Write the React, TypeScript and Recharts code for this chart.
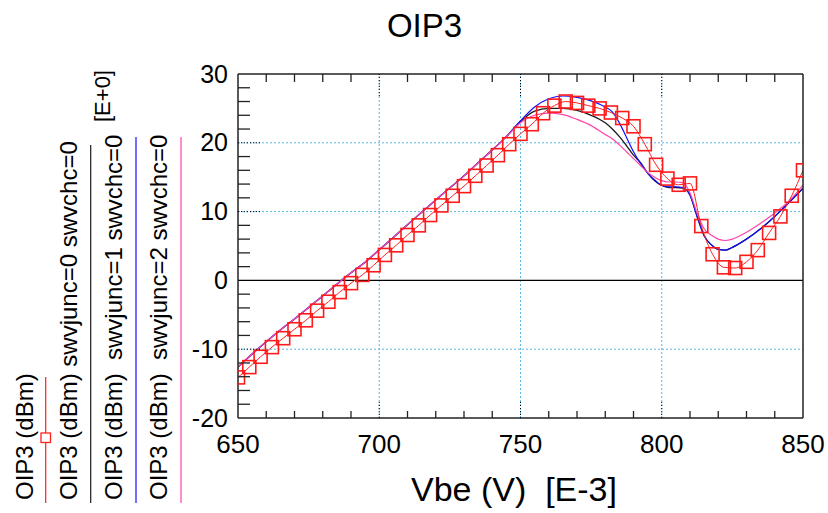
import React from 'react';
import { LineChart, Line, XAxis, YAxis, ReferenceLine } from 'recharts';

// measured OIP3 (red squares), Vbe in mV
const vbeMeas = [650, 654, 658, 662, 666, 670, 674, 678, 682, 686, 690, 694, 698, 702, 706, 710, 714, 718, 722, 726, 730, 734, 738, 742, 746, 750, 754, 758, 762, 766, 770, 774, 778, 782, 786, 790, 794, 798, 802, 806, 810, 814, 818, 822, 826, 830, 834, 838, 842, 846, 850];
const oip3Meas = [-14.1, -12.6, -11.1, -9.7, -8.4, -7.1, -5.8, -4.4, -3.1, -1.7, -0.4, 0.8, 2.2, 3.7, 5.1, 6.6, 8.0, 9.5, 10.9, 12.3, 13.7, 15.2, 16.7, 18.2, 19.8, 21.3, 22.7, 24.3, 25.4, 26.0, 25.8, 25.4, 25.0, 24.4, 23.6, 22.4, 19.8, 16.8, 14.8, 13.9, 14.1, 7.9, 3.8, 1.9, 1.8, 2.7, 4.4, 6.9, 9.3, 12.3, 16.0];

// simulated sweeps
const vbeSim = [650, 655, 660, 665, 670, 675, 680, 685, 690, 695, 700, 705, 710, 715, 720, 725, 730, 735, 740, 745, 750, 755, 760, 765, 770, 775, 780, 782.5, 785, 787.5, 790, 792.5, 795, 797.5, 800, 802.5, 805, 807.5, 810, 812.5, 815, 817.5, 820, 822.5, 825, 830, 835, 840, 845, 850];
const oip3Low = [-12.6, -10.7, -8.9, -7.2, -5.6, -3.95, -2.25, -0.55, 1.1, 2.65, 4.45, 6.25, 8.1, 9.9, 11.7, 13.45, 15.2, 17.1, 18.95, 20.9];
const oip3Junc0 = [...oip3Low, 23.1, 24.6, 25.0, 25.0, 24.7, 24.0, 22.9, 22.0, 20.9, 19.6, 18.2, 17.1, 15.6, 14.5, 13.8, 13.5, 13.5, 13.4, 12.4, 9.3, 6.5, 5.2, 4.5, 4.4, 4.8, 6.0, 7.5, 9.3, 11.3, 13.4];
const oip3Junc1 = [...oip3Low, 23.2, 25.2, 26.4, 26.8, 26.6, 26.1, 25.2, 24.5, 22.9, 20.8, 18.7, 17.0, 15.6, 14.6, 13.8, 13.6, 13.6, 13.5, 12.4, 9.3, 6.5, 5.2, 4.5, 4.4, 4.8, 6.0, 7.5, 9.3, 11.3, 13.4];
const oip3Junc2 = [...oip3Low, 22.9, 24.0, 24.3, 24.1, 23.4, 22.5, 21.2, 20.6, 19.7, 18.7, 17.7, 16.7, 15.7, 15.0, 14.5, 14.3, 14.3, 14.2, 12.7, 9.8, 7.5, 6.6, 6.0, 5.8, 6.0, 7.0, 8.3, 9.8, 11.5, 13.9];

const xTicks = [650, 660, 670, 680, 690, 700, 710, 720, 730, 740, 750, 760, 770, 780, 790, 800, 810, 820, 830, 840, 850];
const yTicks = [-20, -18, -16, -14, -12, -10, -8, -6, -4, -2, 0, 2, 4, 6, 8, 10, 12, 14, 16, 18, 20, 22, 24, 26, 28, 30];
const xGrid = [700, 750, 800];
const yGrid = [-10, 10, 20];

const measData = vbeMeas.map((v, i) => ({ vbe: v, oip3: oip3Meas[i] }));
const simData = vbeSim.map((v, i) => ({ vbe: v, j0: oip3Junc0[i], j1: oip3Junc1[i], j2: oip3Junc2[i] }));

const FONT = '"Liberation Sans", Arial, sans-serif';
const GRID = '#5ab4e6';

const BottomTick = (props: any) => {
    const { x, y, payload } = props;
    const v = payload.value;
    const major = v % 50 === 0;
    return (
        <g>
            {major ? (
                v > 650 && v < 850 && <line x1={x} x2={x} y1={y} y2={y - 18} stroke="#000" strokeDasharray="1 2" />
            ) : (
                <line x1={x} x2={x} y1={y} y2={y - 7} stroke="#222" strokeWidth={1.3} />
            )}
            {major && (
                <text x={x} y={y + 35} textAnchor="middle" fontSize={26} fontFamily={FONT} fill="#000">
                    {v}
                </text>
            )}
        </g>
    );
};

const TopTick = (props: any) => {
    const { x, y, payload } = props;
    const v = payload.value;
    if (v % 50 === 0) {
        if (v === 650 || v === 850) return <g />;
        return <line x1={x} x2={x} y1={y} y2={y + 22} stroke="#000" strokeDasharray="1 2" />;
    }
    return <line x1={x} x2={x} y1={y} y2={y + 8} stroke="#222" strokeWidth={1.3} />;
};

const LeftTick = (props: any) => {
    const { x, y, payload } = props;
    const v = payload.value;
    const major = v % 10 === 0;
    return (
        <g>
            {major ? (
                v > -20 && v < 30 && v !== 0 && <line x1={x} x2={x + 23} y1={y} y2={y} stroke="#000" strokeDasharray="1 2" />
            ) : (
                <line x1={x} x2={x + 12} y1={y} y2={y} stroke="#222" strokeWidth={1.3} />
            )}
            {major && (
                <text x={x - 10} y={y + 8.5} textAnchor="end" fontSize={25} fontFamily={FONT} fill="#000">
                    {v}
                </text>
            )}
        </g>
    );
};

const SquareDot = (props: any) => {
    const { cx, cy, index } = props;
    return (
        <rect key={index} x={cx - 6.5} y={cy - 6.5} width={13} height={13} fill="none" stroke="#ff1a1a" strokeWidth={1.6} />
    );
};

const legendRows = [
    { x: 33, text: 'OIP3 (dBm)' },
    { x: 77, text: 'OIP3 (dBm) swvjunc=0 swvchc=0' },
    { x: 121.5, text: 'OIP3 (dBm)\u00a0\u00a0swvjunc=1 swvchc=0' },
    { x: 166.5, text: 'OIP3 (dBm)\u00a0\u00a0swvjunc=2 swvchc=0' },
];

export default function App() {
    return (
        <div style={{ position: 'absolute', left: 0, top: 0, width: 828, height: 513, background: '#fff' }}>
            <LineChart width={828} height={513} margin={{ top: 73, right: 24, bottom: 55, left: 188 }}>
                <XAxis
                    dataKey="vbe"
                    type="number"
                    domain={[650, 850]}
                    ticks={xTicks}
                    interval={0}
                    height={40}
                    tickSize={0}
                    tickMargin={0}
                    tick={<BottomTick />}
                    axisLine={{ stroke: '#222', strokeWidth: 1.5 }}
                    allowDataOverflow
                />
                <XAxis
                    xAxisId="top"
                    orientation="top"
                    dataKey="vbe"
                    type="number"
                    domain={[650, 850]}
                    ticks={xTicks}
                    interval={0}
                    height={1}
                    tickSize={0}
                    tickMargin={0}
                    tick={<TopTick />}
                    axisLine={{ stroke: '#222', strokeWidth: 1.5 }}
                    allowDataOverflow
                />
                <YAxis
                    type="number"
                    domain={[-20, 30]}
                    ticks={yTicks}
                    interval={0}
                    width={50}
                    tickSize={0}
                    tickMargin={0}
                    tick={<LeftTick />}
                    axisLine={{ stroke: '#222', strokeWidth: 1.5 }}
                    allowDataOverflow
                />
                <YAxis
                    yAxisId="right"
                    orientation="right"
                    type="number"
                    domain={[-20, 30]}
                    width={1}
                    tick={false}
                    tickLine={false}
                    axisLine={{ stroke: '#222', strokeWidth: 1.5 }}
                />
                {xGrid.map((v) => (
                    <ReferenceLine key={'x' + v} x={v} stroke={GRID} strokeDasharray="2 2" strokeWidth={1} />
                ))}
                {yGrid.map((v) => (
                    <ReferenceLine key={'y' + v} y={v} stroke={GRID} strokeDasharray="2 2" strokeWidth={1} />
                ))}
                <ReferenceLine y={0} stroke="#000" strokeWidth={1.2} />
                <Line data={simData} dataKey="j0" type="monotone" stroke="#1a1a1a" strokeWidth={1.3} dot={false} isAnimationActive={false} />
                <Line data={simData} dataKey="j1" type="monotone" stroke="#1010ff" strokeWidth={1.2} dot={false} isAnimationActive={false} />
                <Line data={simData} dataKey="j2" type="monotone" stroke="#ff44a8" strokeWidth={1.2} dot={false} isAnimationActive={false} />
                <Line
                    data={measData}
                    dataKey="oip3"
                    type="monotone"
                    stroke="#ff2020"
                    strokeWidth={1}
                    dot={<SquareDot />}
                    isAnimationActive={false}
                />
            </LineChart>
            <svg
                width={828}
                height={513}
                style={{ position: 'absolute', left: 0, top: 0, pointerEvents: 'none' }}
                fontFamily={FONT}
            >
                <text x={424.5} y={37} textAnchor="middle" fontSize={33} fill="#000">
                    OIP3
                </text>
                <text x={514} y={501} textAnchor="middle" fontSize={34} fill="#000">
                    {'Vbe (V)\u00a0\u00a0[E-3]'}
                </text>
                {legendRows.map((r) => (
                    <text key={r.text} x={r.x} y={500} fontSize={24} fill="#000" transform={`rotate(-90 ${r.x} 500)`}>
                        {r.text}
                    </text>
                ))}
                <text x={110} y={122} fontSize={22} fill="#000" transform="rotate(-90 110 122)">
                    [E+0]
                </text>
                <line x1={45.7} x2={45.7} y1={377} y2={503} stroke="#ff2020" strokeWidth={1.2} />
                <rect x={41} y={433} width={9.5} height={9.5} fill="#fff" stroke="#ff2020" strokeWidth={1.3} />
                <line x1={90.7} x2={90.7} y1={145} y2={503} stroke="#1a1a1a" strokeWidth={1.2} />
                <line x1={136} x2={136} y1={137} y2={503} stroke="#1010ff" strokeWidth={1.2} />
                <line x1={181} x2={181} y1={137} y2={503} stroke="#ff44a8" strokeWidth={1.2} />
            </svg>
        </div>
    );
}
